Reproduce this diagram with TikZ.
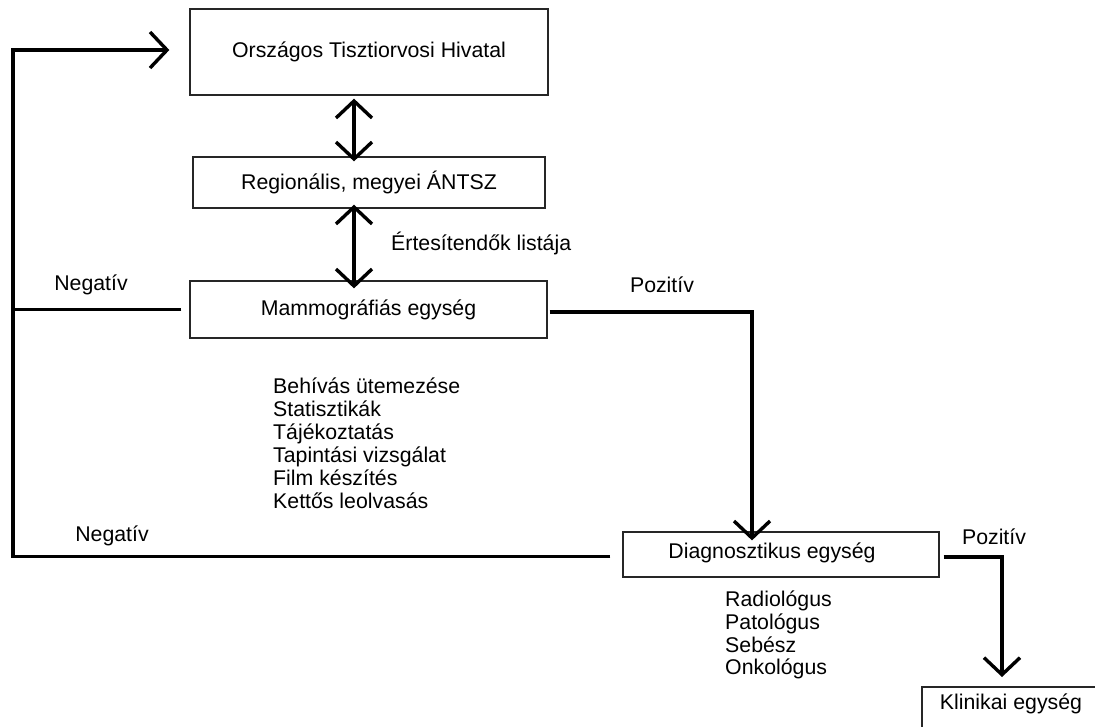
\documentclass[tikz,border=0pt]{standalone}
\usepackage{fontspec}
\setmainfont{Liberation Sans}
\usetikzlibrary{arrows.meta,calc}
\begin{document}
\begin{tikzpicture}[x=1pt,y=-1pt,
  txt/.style={font=\fontsize{21.3}{23}\selectfont},
  box/.style={draw=black!85, line width=1.3pt, inner sep=0pt, align=center, txt},
  conn/.style={line width=3.6pt, black},
  barb/.tip={Straight Barb[length=17pt,width=36pt,line width=3.4pt]},
  tip/.style={-barb},
  dtip/.style={barb-barb},
  lab/.style={txt, inner sep=0pt},
  list/.style={inner sep=0pt, align=left, anchor=north west},
]
\useasboundingbox (0,0) rectangle (1095,726);
\clip (0,0) rectangle (1095,726);
\fill[white] (0,0) rectangle (1095,726);

\node[box, minimum width=358pt, minimum height=86pt] (o) at (369,52) {Országos Tisztiorvosi Hivatal};
\node[box, minimum width=352pt, minimum height=51pt] (r) at (369,182.5) {Regionális, megyei ÁNTSZ};
\node[box, minimum width=357pt, minimum height=57pt] (m) at (368.5,309.5) {Mammográfiás egység};
\node[box, minimum width=316pt, minimum height=45pt] (d) at (781,554.5) {};
\node[lab] (dt) at (772,553) {Diagnosztikus egység};
\draw[draw=black!85, line width=1.3pt] (922,740) |- (1110,687);
\coordinate (k) at (1008,706.5);
\node[lab] (kt) at (1011,704) {Klinikai egység};

\coordinate (lx) at (13,0);
\coordinate (ax) at (752,0);
\coordinate (bx) at (1002,0);
\coordinate (dx) at (354,0);
\coordinate (ty) at (0,50);

% double arrows
\draw[conn, dtip] ([yshift=-3pt]o.south -| dx) -- ([yshift=-5pt]r.north -| dx);
\draw[conn, dtip] ([yshift=4pt]r.south -| dx) -- ([yshift=-8pt]m.north -| dx);
\node[lab, anchor=west] (et) at (391,243) {Értesítendők listája};

% negative loop
\draw[conn, tip] ([xshift=-12pt,yshift=-2pt]d.west) -- ([yshift=-2pt]d.west -| lx) -- (ty -| lx) -- ([xshift=-20pt]o.west |- ty);
\draw[conn] ([xshift=-8pt]m.west) -- (m.west -| lx);
\node[lab] (n1) at (91,285) {Negatív};
\node[lab] (n2) at (112,536) {Negatív};

% positive paths
\draw[conn, tip] ([xshift=2pt,yshift=-2.5pt]m.east) -- ([yshift=-2.5pt]m.east -| ax) -- ([yshift=-9pt]d.north -| ax);
\node[lab] (p1) at (662,285) {Pozitív};
\draw[conn, tip] ([xshift=4pt,yshift=-2.5pt]d.east) -- ([yshift=-2.5pt]d.east -| bx) -- (bx |- 0,677);
\node[lab] (p2) at (994,537) {Pozitív};

% lists
\node[list, font=\fontsize{21.3}{23}\selectfont] (l1) at (273,378) {Behívás ütemezése\\Statisztikák\\Tájékoztatás\\Tapintási vizsgálat\\Film készítés\\Kettős leolvasás};
\node[list, font=\fontsize{21.3}{22.6}\selectfont] (l2) at (725,591) {Radiológus\\Patológus\\Sebész\\Onkológus};
\end{tikzpicture}
\end{document}
